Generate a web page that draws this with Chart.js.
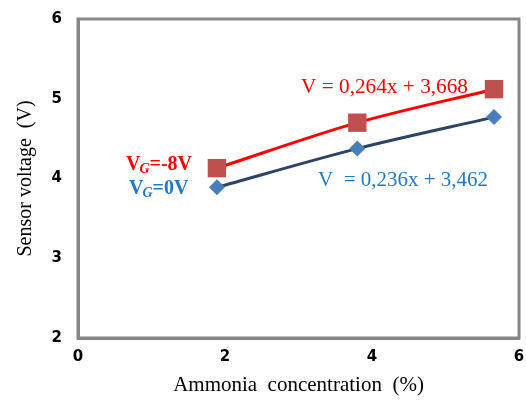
<!DOCTYPE html>
<html><head><meta charset="utf-8">
<script src="https://cdn.jsdelivr.net/npm/chart.js@4"></script>
<style>html,body{margin:0;padding:0;background:#fff;overflow:hidden}#w{width:526px;height:400px}canvas{display:block}</style>
</head><body><div id="w"><canvas id="c"></canvas></div>
<script>
const concentration = [1.89, 3.80, 5.66];
const vgMinus8 = [4.13, 4.70, 5.12];
const vg0 = [3.89, 4.375, 4.77];
const xTicks = [0, 2, 4, 6];
const yTicks = [2, 3, 4, 5, 6];
const xTitle = 'Ammonia  concentration  (%)';
const yTitle = 'Sensor voltage  (V)';
const fitRed = 'V = 0,264x + 3,668';
const fitBlue = 'V  = 0,236x + 3,462';

const GRAY = '#878787';
const RED = '#FF0000', REDM = '#C0504D', NAVY = '#2B4466', BLUEM = '#4A7EBB', BLUET = '#1F78C8';

const notes = {
  id: 'notes',
  beforeDatasetsDraw(chart) {
    const ctx = chart.ctx, xs = chart.scales.x, ys = chart.scales.y;
    const l = xs.getPixelForValue(0), r = xs.getPixelForValue(6);
    const t = ys.getPixelForValue(6), b = ys.getPixelForValue(2);
    ctx.save();
    ctx.strokeStyle = GRAY; ctx.lineWidth = 3;
    ctx.strokeRect(l, t, r - l, b - t);
    ctx.restore();
  },
  afterDatasetsDraw(chart) {
    const ctx = chart.ctx;
    ctx.save();
    ctx.textBaseline = 'alphabetic';
    ctx.textAlign = 'left';
    function stretched(txt, x, y, col, targetW) {
      ctx.save();
      ctx.font = '20px "Liberation Serif"';
      ctx.fillStyle = col;
      const w = ctx.measureText(txt).width;
      ctx.translate(x, y);
      ctx.scale(targetW / w, 1);
      ctx.fillText(txt, 0, 0);
      ctx.restore();
    }
    stretched(fitRed, 301, 93, RED, 167);
    stretched(fitBlue, 318, 186, BLUET, 170);
    function vg(x, y, tail, col) {
      ctx.fillStyle = col;
      ctx.font = 'bold 20px "Liberation Serif"';
      ctx.fillText('V', x, y);
      let w = ctx.measureText('V').width;
      ctx.font = 'bold italic 14px "Liberation Serif"';
      ctx.fillText('G', x + w - 1, y + 3);
      w += ctx.measureText('G').width - 1;
      ctx.font = 'bold 20px "Liberation Serif"';
      ctx.fillText(tail, x + w, y);
    }
    vg(126, 170, '=-8V', RED);
    vg(129, 194, '=0V', BLUET);
    ctx.restore();
  }
};

new Chart(document.getElementById('c'), {
  type: 'line',
  data: {
    datasets: [
      { label: 'VG=-8V', data: concentration.map((x, i) => ({x, y: vgMinus8[i]})), clip: false,
        borderColor: RED, borderWidth: 3, tension: 0.3,
        pointStyle: 'rect', pointRadius: 13, pointBackgroundColor: REDM, pointBorderColor: REDM, pointBorderWidth: 0 },
      { label: 'VG=0V', data: concentration.map((x, i) => ({x, y: vg0[i]})), clip: false,
        borderColor: NAVY, borderWidth: 3, tension: 0.3,
        pointStyle: 'rectRot', pointRadius: 8, pointBackgroundColor: BLUEM, pointBorderColor: BLUEM, pointBorderWidth: 0 }
    ]
  },
  options: {
    responsive: true, maintainAspectRatio: false, animation: false,
    layout: { autoPadding: false, padding: { top: 19, right: 7, bottom: 0, left: 0 } },
    plugins: { legend: { display: false }, tooltip: { enabled: false } },
    scales: {
      x: {
        type: 'linear', min: 0, max: 6,
        afterBuildTicks: s => { s.ticks = xTicks.map(v => ({value: v})); },
        afterFit: s => { s.height = 62; s.paddingRight = 0; s.paddingLeft = 0; },
        grid: { display: false, drawTicks: true, tickLength: 6, tickColor: GRAY, tickWidth: 3 },
        border: { display: true, color: GRAY, width: 3 },
        ticks: { color: '#000', font: { family: 'DejaVu Sans', weight: 'bold', size: 15 }, padding: 4, maxRotation: 0 },
        title: { display: true, text: xTitle, color: '#000', font: { family: 'Liberation Serif', size: 21 }, padding: { top: 0, bottom: 2 } }
      },
      y: {
        type: 'linear', min: 2, max: 6,
        afterBuildTicks: s => { s.ticks = yTicks.map(v => ({value: v})); },
        afterFit: s => { s.width = 78; },
        grid: { display: false, drawTicks: true, tickLength: 6, tickColor: GRAY, tickWidth: 3 },
        border: { display: true, color: GRAY, width: 3 },
        ticks: { color: '#000', font: { family: 'DejaVu Sans', weight: 'bold', size: 15 }, padding: 10 },
        title: { display: true, text: yTitle, color: '#000', font: { family: 'Liberation Serif', size: 20 }, padding: { top: 14, bottom: 0 } }
      }
    }
  },
  plugins: [notes]
});
</script></body></html>
